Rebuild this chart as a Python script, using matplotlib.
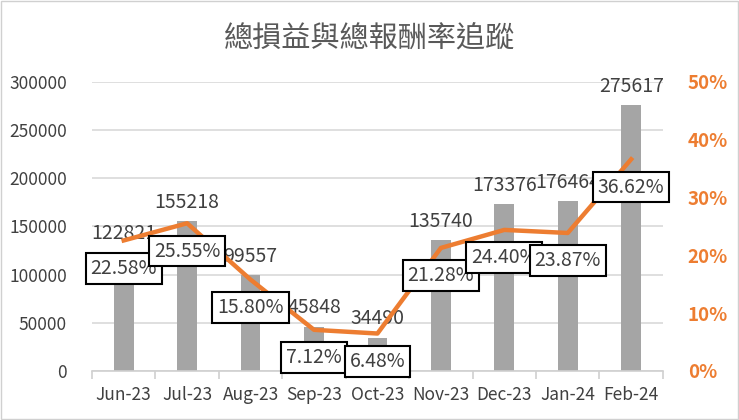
import matplotlib.pyplot as plt
import numpy as np
from matplotlib.patches import Rectangle

plt.rcParams['font.family'] = ['Noto Sans CJK TC', 'DejaVu Sans']

months = ["Jun-23", "Jul-23", "Aug-23", "Sep-23", "Oct-23", "Nov-23", "Dec-23", "Jan-24", "Feb-24"]
profit = [122821, 155218, 99557, 45848, 34490, 135740, 173376, 176464, 275617]
rate = [22.58, 25.55, 15.80, 7.12, 6.48, 21.28, 24.40, 23.87, 36.62]

orange = "#ED7D31"
text_gray = "#404040"

fig = plt.figure(figsize=(7.39, 4.2), dpi=100)
fig.patches.append(Rectangle((0.002, 0.003), 0.996, 0.994, transform=fig.transFigure,
                             fill=False, edgecolor="#D0D0D0", linewidth=1))
ax = fig.add_axes([0.1245, 0.1167, 0.7725, 0.6883])
x = np.arange(len(months))

ax.bar(x, profit, width=0.31, color="#A5A5A5", zorder=2)
ax.set_ylim(0, 300000)
ax.set_xlim(-0.5, len(months) - 0.5)
ax.set_yticks(range(0, 300001, 50000))
ax.yaxis.grid(True, color="#D9D9D9", linewidth=1.2, zorder=0)
ax.set_axisbelow(True)
for s in ["top", "left", "right"]:
    ax.spines[s].set_visible(False)
ax.spines["bottom"].set_color("#D0D0D0")
ax.spines["bottom"].set_linewidth(1.2)

ax.set_xticks(x)
ax.set_xticklabels(months, fontsize=12.5, color=text_gray)
ax.tick_params(axis="x", length=0, pad=11)
ax.set_xticks(np.arange(-0.5, len(months), 1), minor=True)
ax.tick_params(axis="x", which="minor", length=6, color="#D0D0D0", width=1.2)
ax.tick_params(axis="y", length=0, pad=18, labelsize=12.5, labelcolor=text_gray)

for xi, v in zip(x, profit):
    ax.annotate(str(v), (xi, v), xytext=(0, 6), textcoords="offset points",
                ha="center", va="bottom", fontsize=14, color=text_gray, zorder=5)

ax2 = ax.twinx()
ax2.plot(x, rate, color=orange, linewidth=3.2, zorder=3)
ax2.set_ylim(0, 50)
ax2.set_yticks(range(0, 51, 10))
ax2.set_yticklabels([f"{t}%" for t in range(0, 51, 10)])
ax2.tick_params(axis="y", length=0, pad=18, labelsize=13.5, labelcolor=orange)
for lab in ax2.get_yticklabels():
    lab.set_fontweight("bold")
for s in ["top", "left", "right", "bottom"]:
    ax2.spines[s].set_visible(False)

for xi, r in zip(x, rate):
    ax2.annotate(f"{r:.2f}%", (xi, r), xytext=(0, -20), textcoords="offset points",
                 ha="center", va="center", fontsize=14, color=text_gray, zorder=6,
                 bbox=dict(boxstyle="square,pad=0.25", facecolor="white",
                           edgecolor="black", linewidth=1.5))

fig.text(0.5, 0.905, "總損益與總報酬率追蹤", ha="center", va="center",
         fontsize=21, color="#595959")

plt.savefig("out.png", dpi=100)
